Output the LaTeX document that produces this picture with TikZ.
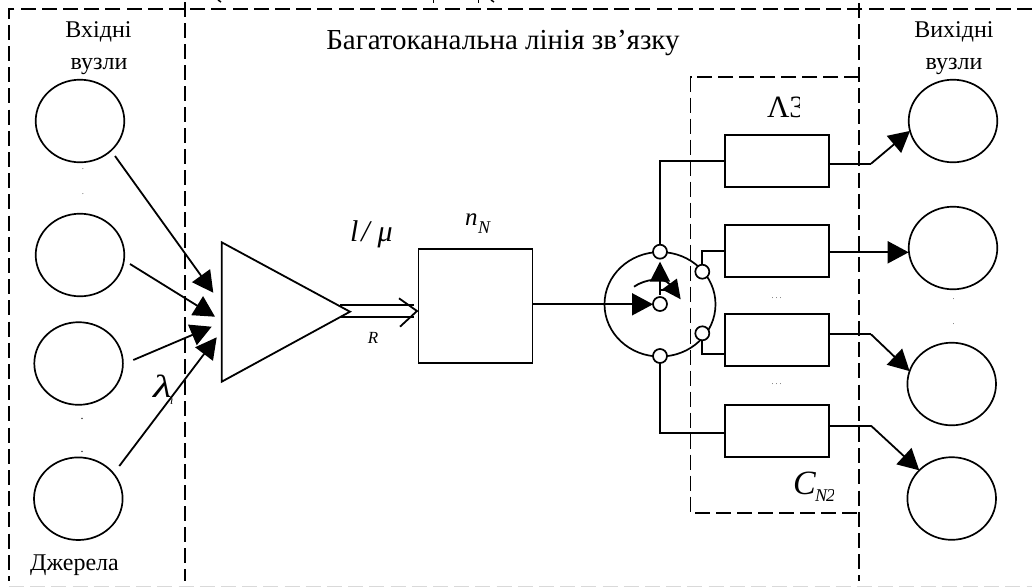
\documentclass[tikz,border=0pt]{standalone}
\usepackage{fontspec}
\setmainfont{Liberation Serif}
\usetikzlibrary{arrows.meta,shapes.geometric}
\tikzset{
  ln/.style={line width=1.8pt,draw=black},
  arr/.style={ln,-{Triangle[length=21pt,width=22pt]}},
  node-o/.style={ellipse,draw=black,line width=1.7pt,minimum width=88.6pt,minimum height=82.6pt,inner sep=0pt,outer sep=0pt},
  lsbox/.style={rectangle,draw=black,line width=1.8pt,minimum width=103.7pt,minimum height=52pt,inner sep=0pt,outer sep=0pt},
  port/.style={ellipse,draw=black,fill=white,line width=1.7pt,minimum width=14pt,minimum height=14pt,inner sep=0pt,outer sep=0pt},
  lbl/.style={inner sep=0pt,outer sep=0pt,anchor=base,font=\fontsize{24}{24}\selectfont},
  itl/.style={inner sep=0pt,outer sep=0pt,anchor=base west},
  tiny dots/.style={inner sep=0pt,outer sep=0pt,anchor=base,font=\fontsize{7}{7}\selectfont},
  bigdash/.style={line width=1.8pt,dash pattern=on 15pt off 6.2pt},
  thindash/.style={line width=1.4pt,dash pattern=on 15pt off 6pt},
}
\begin{document}
\begin{tikzpicture}[x=1pt,y=-1pt]
\useasboundingbox (0,0) rectangle (1032,587);
% input nodes
\node[node-o] (i1) at (80,121) {};
\node[node-o] (i2) at (80,255) {};
\node[node-o] (i3) at (78.6,363.5) {};
\node[node-o] (i4) at (78.3,498.7) {};
% output nodes
\node[node-o] (o1) at (953,121) {};
\node[node-o] (o2) at (953,248) {};
\node[node-o] (o3) at (951.7,384) {};
\node[node-o] (o4) at (951.7,498.5) {};
% concentrator
\draw[ln,line join=miter] (221.7,242.3) coordinate (ta) -- (350,311.7) coordinate (tip) -- (221.7,381.7) coordinate (tb) -- cycle;
% buffer
\node[rectangle,draw=black,line width=1.8pt,minimum width=114pt,minimum height=114pt,inner sep=0pt,outer sep=0pt] (buf) at (475.5,306.3) {};
% link boxes
\node[lsbox] (b1) at (776.85,160.85) {};
\node[lsbox] (b2) at (776.85,251.15) {};
\node[lsbox] (b3) at (776.85,340.15) {};
\node[lsbox] (b4) at (776.85,431.15) {};
% switch
\node[ellipse,draw=black,line width=1.7pt,minimum width=111pt,minimum height=104.5pt,inner sep=0pt,outer sep=0pt] (sw) at (660,304.3) {};
% free ends
\coordinate (a1s) at (115,156);
\coordinate (a1e) at (213.3,292.7);
\coordinate (a2s) at (130,264);
\coordinate (a2e) at (215,316.7);
\coordinate (a3s) at (133.3,360);
\coordinate (a3e) at (211.7,326.7);
\coordinate (a4s) at (119.3,466);
\coordinate (a4e) at (216.7,337.3);
\draw[arr] (a1s) -- (a1e);
\draw[arr] (a2s) -- (a2e);
\draw[arr] (a3s) -- (a3e);
\draw[arr] (a4s) -- (a4e);
% double line
\draw[ln] (340,305) -- (414,305);
\draw[ln] (340,317.3) -- (414,317.3);
\draw[ln,line join=miter] (399,298.3) -- (417,311) -- (400,326.7);
% box to switch
\coordinate (s0w) at (653,304.3);
\draw[arr] (buf.east |- s0w) -- (s0w);
% switch inner arrows
\coordinate (upS) at (660,295);
\coordinate (upE) at (660,261.7);
\draw[ln,-{Triangle[length=20pt,width=20pt]}] (upS) -- (upE);
\coordinate (arcS) at (634,286.7);
\coordinate (arcE) at (680.7,299.3);
\draw[ln,-{Triangle[length=19pt,width=18pt]}] (arcS) .. controls (645,279) and (664,276.5) .. (arcE);
\draw[ln] (660,290) -- (673,290);
% switch ports
\node[port] (s1) at (660,251.7) {};
\node[port] (s2) at (702.3,271.7) {};
\node[port] (s3) at (702.3,333.3) {};
\node[port] (s4) at (660,356) {};
\node[port] (s0) at (660,304) {};
% connectors to boxes
\draw[ln] (s1.north) |- (b1.west);
\draw[ln] (s2.north) |- (b2.west);
\draw[ln] (s3.south) |- ([yshift=-14.15pt]b3.west);
\draw[ln] (s4.south) |- ([yshift=-2.15pt]b4.west);
% outputs
\coordinate (k1) at (871,163.7);
\coordinate (k2) at (908.7,252.3);
\coordinate (k3) at (871,334.3);
\coordinate (k4) at (871,425.7);
\draw[ln] (b1.east |- k1) -- (k1);
\draw[arr] (k1) -- (o1.193);
\draw[arr] (b2.east |- k2) -- (k2);
\draw[ln] (b3.east |- k3) -- (k3);
\draw[arr] (k3) -- (o3.163);
\draw[ln] (b4.east |- k4) -- (k4);
\draw[arr] (k4) -- (o4.139.5);
% dashed frames
\draw[bigdash] (1032,9) -- (9,9) -- (9,581);
\draw[thindash] (185,2) -- (185,581);
\draw[bigdash] (859,3) -- (859,581);
\draw[thindash] (859,77) -- (690.5,77) -- (690.5,513) -- (859,513);
\draw[line width=1.2pt,draw=black!15,dash pattern=on 15pt off 6.2pt] (9,586.6) -- (1032,586.6);
% remnants of the clipped line above the frame
\draw[line width=1.4pt] (218,0) -- (221,2);
\draw[line width=1pt] (433.5,0) -- (433.5,3);
\draw[line width=1pt] (478.5,0) -- (478.5,3);
\draw[line width=1.4pt] (491,0) -- (494,2);
% labels
\node[lbl] (t1) at (98.5,37) {Вхідні};
\node[lbl] (t2) at (99,69.3) {вузли};
\node[lbl] (t3) at (954,37) {Вихідні};
\node[lbl] (t4) at (954,69.3) {вузли};
\node[lbl] (t5) at (74.5,570) {Джерела};
\node[lbl,font=\fontsize{29}{29}\selectfont] (t6) at (503,49) {Багатоканальна лінія зв’язку};
\begin{scope}
\clip (760,90) rectangle (799,125);
\node[itl,font=\fontsize{31}{31}\selectfont] (t7) at (767,117) {Λ3};
\end{scope}
\node[itl,font=\itshape\fontsize{34}{34}\selectfont] (t8) at (793,494) {C};
\begin{scope}
\clip (810,485) rectangle (833,505);
\node[itl,font=\itshape\fontsize{18}{18}\selectfont] (t9) at (815,501.7) {N};
\node[itl,font=\itshape\fontsize{18}{18}\selectfont] (t10) at (826,501.7) {2};
\end{scope}
\node[inner sep=0pt,anchor=base,font=\itshape\fontsize{17}{17}\selectfont] (t11) at (373,343) {R};
\node[itl,font=\itshape\fontsize{32}{32}\selectfont] (t12) at (153,397) {\scalebox{1.35}[1]{λ}};
\node[itl,font=\itshape\fontsize{12}{12}\selectfont] (t13) at (170,404) {ı};
\node[itl,font=\itshape\fontsize{30}{30}\selectfont] (t14) at (350,241.7) {l\hspace{3pt}/\hspace{8pt}μ};
\node[itl,font=\itshape\fontsize{25}{25}\selectfont] (t15) at (465,225) {n};
\node[itl,font=\itshape\fontsize{18}{18}\selectfont] (t16) at (478,233) {N};
% dots
\node[tiny dots] (d1) at (776.7,298) {. . .};
\node[tiny dots] (d2) at (776.7,384) {. . .};
\node[tiny dots] (d3) at (83,169) {.};
\node[tiny dots] (d4) at (83,194) {.};
\node[inner sep=0pt,anchor=base,font=\fontsize{12}{12}\selectfont] (d5) at (82,419.5) {.};
\node[inner sep=0pt,anchor=base,font=\fontsize{12}{12}\selectfont] (d6) at (82,452) {.};
\node[tiny dots] (d7) at (953.7,299) {.};
\node[tiny dots] (d8) at (953.7,324) {.};
\end{tikzpicture}
\end{document}
